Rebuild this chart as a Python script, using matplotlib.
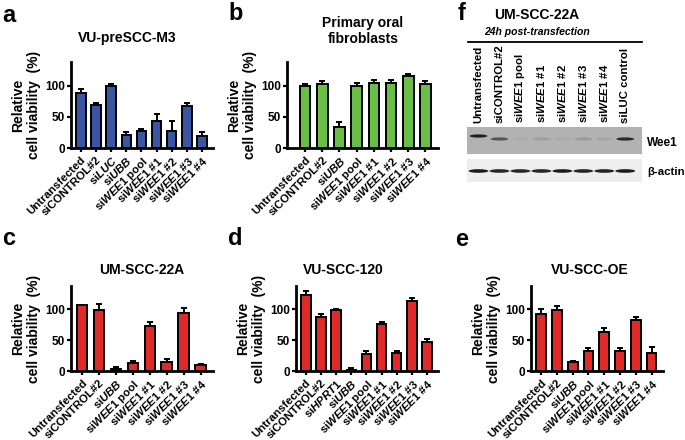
import matplotlib
matplotlib.use("Agg")
import matplotlib.pyplot as plt
from matplotlib.patches import Rectangle, Ellipse
import numpy as np

plt.rcParams['font.family'] = ['Liberation Sans', 'DejaVu Sans']
plt.rcParams['font.weight'] = 'bold'
plt.rcParams['mathtext.fontset'] = 'custom'
plt.rcParams['mathtext.it'] = 'Liberation Sans:bold:italic'
plt.rcParams['mathtext.rm'] = 'Liberation Sans:bold'
plt.rcParams['mathtext.bf'] = 'Liberation Sans:bold'

# ---- data ----
labels_a = ['Untransfected', 'siCONTROL#2', r'si$\mathit{LUC}$', r'si$\mathit{UBB}$',
            r'si$\mathit{WEE1}$ pool', r'si$\mathit{WEE1}$ #1', r'si$\mathit{WEE1}$ #2',
            r'si$\mathit{WEE1}$ #3', r'si$\mathit{WEE1}$ #4']
vals_a = [89, 69, 99, 21, 27, 43, 27, 67, 19]
err_a = [5, 3, 3, 4, 3, 11, 16, 5, 7]

labels_b = ['Untransfected', 'siCONTROL#2', r'si$\mathit{UBB}$',
            r'si$\mathit{WEE1}$ pool', r'si$\mathit{WEE1}$ #1', r'si$\mathit{WEE1}$ #2',
            r'si$\mathit{WEE1}$ #3', r'si$\mathit{WEE1}$ #4']
vals_b = [99, 102, 33, 100, 105, 105, 115, 103]
err_b = [3, 5, 9, 4, 4, 4, 3, 5]

labels_c = labels_b
vals_c = [107, 99, 3, 13, 73, 15, 94, 10]
err_c = [0, 10, 3, 4, 6, 4, 9, 2]

labels_d = ['Untransfected', 'siCONTROL#2', r'si$\mathit{HPRT1}$', r'si$\mathit{UBB}$',
            r'si$\mathit{WEE1}$ pool', r'si$\mathit{WEE1}$ #1', r'si$\mathit{WEE1}$ #2',
            r'si$\mathit{WEE1}$ #3', r'si$\mathit{WEE1}$ #4']
vals_d = [124, 87, 99, 2, 27, 76, 29, 113, 47]
err_d = [6, 5, 2, 3, 6, 4, 4, 5, 5]

labels_e = labels_b
vals_e = [92, 99, 15, 32, 63, 33, 83, 29]
err_e = [8, 6, 2, 6, 7, 4, 5, 10]

blot_lanes = ['Untransfected', 'siCONTROL#2', r'si$\mathit{WEE1}$ pool', r'si$\mathit{WEE1}$ #1',
              r'si$\mathit{WEE1}$ #2', r'si$\mathit{WEE1}$ #3', r'si$\mathit{WEE1}$ #4', 'siLUC control']
wee1_band = [0.95, 0.6, 0.04, 0.12, 0.05, 0.15, 0.08, 0.9]
actin_band = [0.95, 0.9, 0.9, 0.9, 0.95, 0.9, 0.92, 0.95]

BLUE = '#3b55a5'
GREEN = '#6abd45'
RED = '#e02a2a'

W, H = 685, 440
fig = plt.figure(figsize=(6.85, 4.40), dpi=100)


def box(x0, y0, x1, y1):
    return [x0 / W, 1 - y1 / H, (x1 - x0) / W, (y1 - y0) / H]


def ftext(x, y, s, **kw):
    fig.text(x / W, 1 - y / H, s, **kw)


def bar_panel(rect, labels, vals, errs, color, left_pad=0.65):
    ax = fig.add_axes(rect)
    x = np.arange(len(vals))
    ax.bar(x, vals, width=0.62, color=color, edgecolor='black', linewidth=1.4, zorder=2)
    ax.errorbar(x, vals, yerr=[np.zeros(len(errs)), errs], fmt='none', ecolor='black',
                elinewidth=1.4, capsize=2.3, capthick=1.4, zorder=1)
    ax.set_xlim(-left_pad, len(vals) - 0.27)
    ax.set_ylim(0, 138)
    ax.set_yticks([0, 50, 100])
    ax.set_xticks(x)
    ax.set_xticklabels(labels, rotation=45, ha='right', rotation_mode='anchor', fontsize=8.2)
    ax.tick_params(axis='y', labelsize=8.5, width=1.6, length=3, pad=1.5)
    ax.tick_params(axis='x', width=1.6, length=3, pad=1.5)
    for s in ['top', 'right']:
        ax.spines[s].set_visible(False)
    for s in ['left', 'bottom']:
        ax.spines[s].set_linewidth(2)
    ax.set_ylabel('Relative\ncell viability  (%)', fontsize=10, fontweight='bold',
                  linespacing=1.1, labelpad=3)
    return ax


bar_panel(box(71, 62, 213, 148), labels_a, vals_a, err_a, BLUE)
bar_panel(box(287, 62, 438, 148), labels_b, vals_b, err_b, GREEN, left_pad=1.05)
bar_panel(box(71, 286, 213, 371), labels_c, vals_c, err_c, RED)
bar_panel(box(296, 286, 438, 371), labels_d, vals_d, err_d, RED)
bar_panel(box(531, 286, 663, 371), labels_e, vals_e, err_e, RED)

# titles
tkw = dict(fontsize=10, fontweight='bold', ha='center', va='center')
ftext(127, 38, 'VU-preSCC-M3', **tkw)
ftext(363, 31, 'Primary oral\nfibroblasts', linespacing=1.15, **tkw)
ftext(142, 270, 'UM-SCC-22A', **tkw)
ftext(343, 270, 'VU-SCC-120', **tkw)
ftext(590, 270, 'VU-SCC-OE', **tkw)

# panel letters
lkw = dict(fontsize=17, fontweight='bold', ha='left', va='center')
ftext(2, 16, 'a', **lkw)
ftext(228, 14, 'b', **lkw)
ftext(458, 14, 'f', **lkw)
ftext(2, 238, 'c', **lkw)
ftext(228, 238, 'd', **lkw)
ftext(455, 240, 'e', **lkw)

# blot panel f
bx = fig.add_axes(box(467, 127, 642, 182))
n = len(blot_lanes)
bx.set_xlim(-0.55, n - 0.2)
bx.set_ylim(55, 0)
bx.axis('off')
bx.add_patch(Rectangle((-0.55, 0), n + 0.35, 27, facecolor='#b2b2b2', edgecolor='none'))
bx.add_patch(Rectangle((-0.55, 32), n + 0.35, 23, facecolor='#eeeeee', edgecolor='none'))
for i in range(n):
    yb = 9 if i == 0 else 12
    bx.add_patch(Ellipse((i, yb), 0.85, 3.2, facecolor='#181818', alpha=wee1_band[i],
                         edgecolor='none'))
    bx.add_patch(Ellipse((i, 44), 0.95, 3.6, facecolor='#101010', alpha=actin_band[i],
                         edgecolor='none'))
    bx.text(i, -4, blot_lanes[i], rotation=90, ha='center', va='bottom', fontsize=8.2,
            clip_on=False)
ftext(647, 143, 'Wee1', fontsize=8.5, fontweight='bold', ha='left', va='center')
ftext(647, 172, 'β-actin', fontsize=8.2, fontweight='bold', ha='left', va='center')

ftext(537, 15, 'UM-SCC-22A', fontsize=10, fontweight='bold', ha='center', va='center')
ftext(537, 32, '24h post-transfection', fontsize=7.5, fontweight='bold', style='italic',
      ha='center', va='center')
fig.add_artist(plt.Line2D([468 / W, 642 / W], [1 - 42 / H, 1 - 42 / H], color='black',
                          linewidth=1.3))

fig.savefig('out.png', dpi=100)
